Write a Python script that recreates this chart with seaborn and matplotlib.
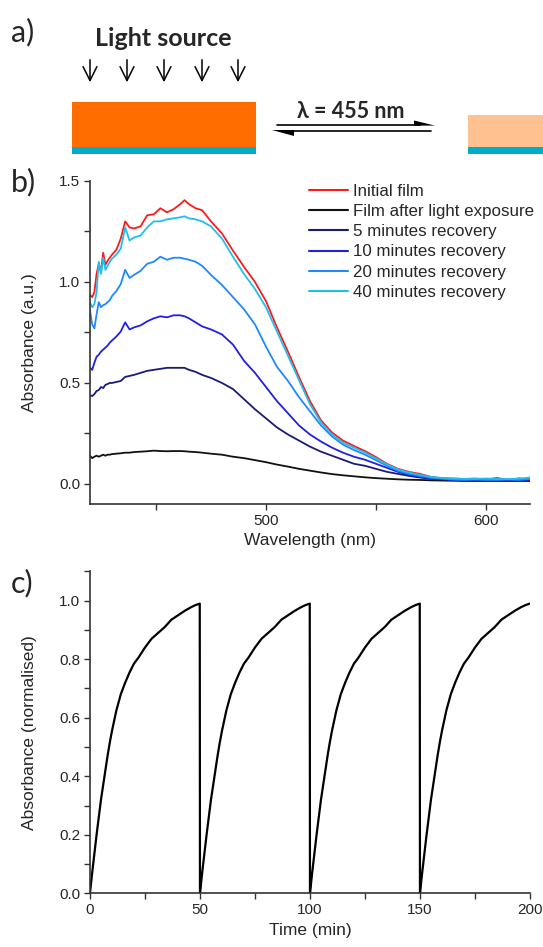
import numpy as np
import pandas as pd
import seaborn as sns
import matplotlib
matplotlib.use('Agg')
import matplotlib.pyplot as plt
from matplotlib.patches import Rectangle, Polygon
from matplotlib.ticker import MultipleLocator, FormatStrFormatter

# --- panel b: absorbance spectra ---
wavelength = [420, 421, 422, 423, 424, 425, 426, 427, 428, 429, 430, 432, 434, 436, 438, 440,
              443, 446, 449, 452, 455, 458, 461, 463, 465, 468, 471, 475, 480, 485, 490, 495,
              500, 505, 510, 515, 520, 525, 530, 535, 540, 545, 550, 555, 560, 565, 570, 575,
              580, 585, 590, 595, 600, 605, 610, 615, 620]

initial_film = [0.935, 0.925, 0.95, 1.04, 1.09, 1.05, 1.145, 1.085, 1.105, 1.12, 1.135, 1.16,
                1.215, 1.30, 1.27, 1.265, 1.275, 1.33, 1.335, 1.365, 1.345, 1.36, 1.385, 1.405,
                1.385, 1.365, 1.355, 1.30, 1.24, 1.155, 1.075, 1.0, 0.905, 0.775, 0.655, 0.53,
                0.41, 0.315, 0.255, 0.215, 0.188, 0.163, 0.133, 0.10, 0.075, 0.06, 0.05, 0.035,
                0.028, 0.027, 0.025, 0.027, 0.022, 0.03, 0.02, 0.028, 0.022]
after_light = [0.14, 0.128, 0.135, 0.14, 0.135, 0.14, 0.145, 0.14, 0.145, 0.145, 0.148, 0.15,
               0.152, 0.155, 0.155, 0.158, 0.16, 0.162, 0.165, 0.163, 0.162, 0.163, 0.163, 0.162,
               0.16, 0.158, 0.155, 0.15, 0.145, 0.135, 0.128, 0.118, 0.108, 0.096, 0.086, 0.075,
               0.066, 0.057, 0.049, 0.043, 0.038, 0.033, 0.029, 0.026, 0.023, 0.021, 0.02, 0.018,
               0.017, 0.016, 0.015, 0.015, 0.015, 0.015, 0.015, 0.015, 0.015]
rec_5min = [0.44, 0.435, 0.445, 0.46, 0.465, 0.48, 0.475, 0.49, 0.495, 0.50, 0.50, 0.505,
            0.51, 0.53, 0.535, 0.54, 0.55, 0.56, 0.565, 0.57, 0.575, 0.575, 0.575, 0.575,
            0.565, 0.555, 0.54, 0.525, 0.50, 0.47, 0.42, 0.37, 0.325, 0.28, 0.245, 0.215,
            0.185, 0.16, 0.14, 0.12, 0.10, 0.09, 0.075, 0.06, 0.05, 0.04, 0.032, 0.025,
            0.022, 0.02, 0.019, 0.018, 0.018, 0.018, 0.018, 0.018, 0.018]
rec_10min = [0.575, 0.565, 0.60, 0.63, 0.64, 0.655, 0.665, 0.675, 0.685, 0.70, 0.71, 0.73,
             0.755, 0.80, 0.765, 0.775, 0.785, 0.805, 0.82, 0.83, 0.825, 0.835, 0.835, 0.83,
             0.82, 0.80, 0.78, 0.765, 0.74, 0.69, 0.61, 0.55, 0.48, 0.41, 0.35, 0.29,
             0.245, 0.21, 0.18, 0.155, 0.135, 0.12, 0.10, 0.08, 0.06, 0.045, 0.035, 0.028,
             0.025, 0.02, 0.02, 0.02, 0.019, 0.02, 0.019, 0.02, 0.02]
rec_20min = [0.86, 0.79, 0.77, 0.84, 0.90, 0.875, 0.885, 0.89, 0.90, 0.91, 0.93, 0.955,
             0.99, 1.06, 1.02, 1.035, 1.055, 1.09, 1.10, 1.125, 1.11, 1.12, 1.12, 1.115,
             1.11, 1.10, 1.08, 1.035, 0.985, 0.925, 0.865, 0.79, 0.68, 0.58, 0.51, 0.43,
             0.36, 0.29, 0.235, 0.195, 0.168, 0.145, 0.118, 0.09, 0.065, 0.05, 0.04, 0.03,
             0.026, 0.022, 0.02, 0.022, 0.02, 0.02, 0.022, 0.02, 0.025]
rec_40min = [0.90, 0.875, 0.89, 0.95, 1.10, 1.04, 1.12, 1.06, 1.08, 1.10, 1.115, 1.135,
             1.165, 1.27, 1.205, 1.22, 1.23, 1.27, 1.30, 1.30, 1.31, 1.315, 1.32, 1.325,
             1.315, 1.31, 1.30, 1.275, 1.215, 1.125, 1.04, 0.965, 0.875, 0.755, 0.635, 0.515,
             0.395, 0.305, 0.245, 0.205, 0.18, 0.155, 0.127, 0.097, 0.072, 0.057, 0.045, 0.035,
             0.03, 0.027, 0.025, 0.025, 0.027, 0.025, 0.024, 0.026, 0.032]

series_names = ['Initial film', 'Film after light exposure', '5 minutes recovery',
                '10 minutes recovery', '20 minutes recovery', '40 minutes recovery']
series_values = [initial_film, after_light, rec_5min, rec_10min, rec_20min, rec_40min]
series_colors = ['#ff1a1a', '#111111', '#1a1a7a', '#1f1fe6', '#1f88ff', '#1ec0ee']

# --- panel c: one recovery cycle, repeated every 50 min ---
cycle_time = [0, 1, 2, 3, 4, 5, 6, 7, 8, 9, 10, 12, 14, 16, 18, 20, 22, 25, 28, 31, 34, 37,
              40, 43, 46, 48, 49.9]
cycle_abs = [0.0, 0.07, 0.135, 0.2, 0.26, 0.32, 0.37, 0.42, 0.47, 0.515, 0.555, 0.625, 0.68,
             0.72, 0.755, 0.785, 0.805, 0.84, 0.87, 0.89, 0.91, 0.935, 0.95, 0.965, 0.978,
             0.985, 0.99]
cycle_starts = [0, 50, 100, 150]

sns.set_style('ticks')
plt.rcParams['font.family'] = ['Liberation Sans', 'DejaVu Sans']
label_font = ['Lato', 'DejaVu Sans']

fig = plt.figure(figsize=(5.43, 9.47), dpi=100)

# panel a: schematic drawn in figure pixel coordinates
ax_a = fig.add_axes([0, 0, 1, 1])
ax_a.set_xlim(0, 543)
ax_a.set_ylim(947, 0)
ax_a.axis('off')
ax_a.add_patch(Rectangle((72, 102), 184, 45, color='#ff6d00', lw=0))
ax_a.add_patch(Rectangle((72, 147), 184, 7, color='#00adc8', lw=0))
ax_a.add_patch(Rectangle((468, 115), 80, 32, color='#ffc190', lw=0))
ax_a.add_patch(Rectangle((468, 147), 80, 7, color='#00adc8', lw=0))
for ax_x in [90, 127, 164, 202, 238]:
    ax_a.annotate('', xy=(ax_x, 85), xytext=(ax_x, 57),
                  arrowprops=dict(arrowstyle='->, head_length=0.5, head_width=0.25',
                                  lw=1.1, color='black', mutation_scale=20))
ax_a.plot([277, 420], [125, 125], color='black', lw=1.2)
ax_a.add_patch(Polygon([(414, 120.5), (435, 125.6), (414, 125.6)], closed=True, color='black', lw=0))
ax_a.plot([288, 431], [131, 131], color='black', lw=1.2)
ax_a.add_patch(Polygon([(272, 130.4), (294, 130.4), (294, 136)], closed=True, color='black', lw=0))
ax_a.text(163, 38, 'Light source', ha='center', va='center', fontsize=18, fontweight='bold',
          family=label_font)
ax_a.text(351, 111, 'λ = 455 nm', ha='center', va='center', fontsize=15.5, fontweight='bold',
          family=label_font)
for lab, ly in [('a)', 32), ('b)', 182), ('c)', 583)]:
    ax_a.text(11, ly, lab, ha='left', va='center', fontsize=22, family=label_font)

# panel b
rows = []
for name, vals in zip(series_names, series_values):
    for w, v in zip(wavelength, vals):
        rows.append((w, v, name))
df_b = pd.DataFrame(rows, columns=['wavelength', 'absorbance', 'series'])

ax_b = fig.add_axes([0.1657, 0.4676, 0.8103, 0.3413])
sns.lineplot(data=df_b, x='wavelength', y='absorbance', hue='series', hue_order=series_names,
             palette=series_colors, estimator=None, sort=False, lw=1.3, ax=ax_b)
ax_b.set_xlim(420, 620)
ax_b.set_ylim(-0.1, 1.5)
ax_b.xaxis.set_major_locator(MultipleLocator(100))
ax_b.xaxis.set_minor_locator(MultipleLocator(50))
ax_b.yaxis.set_major_locator(MultipleLocator(0.5))
ax_b.yaxis.set_minor_locator(MultipleLocator(0.25))
ax_b.set_xlabel('Wavelength (nm)', fontsize=12.5)
ax_b.set_ylabel('Absorbance (a.u.)', fontsize=12.5)
leg = ax_b.legend(loc='upper left', bbox_to_anchor=(0.497, 0.99), frameon=False, fontsize=12.2,
                  handlelength=2.3, handletextpad=0.3, labelspacing=0.3, borderpad=0,
                  borderaxespad=0)
for line in leg.get_lines():
    line.set_linewidth(1.5)

# panel c
rows = []
for start in cycle_starts:
    for t, v in zip(cycle_time, cycle_abs):
        rows.append((start + t, v))
df_c = pd.DataFrame(rows, columns=['time', 'absorbance'])

ax_c = fig.add_axes([0.1657, 0.0567, 0.8103, 0.3399])
sns.lineplot(data=df_c, x='time', y='absorbance', estimator=None, sort=False, color='black',
             lw=1.6, ax=ax_c)
ax_c.set_xlim(0, 200)
ax_c.set_ylim(0, 1.1)
ax_c.xaxis.set_major_locator(MultipleLocator(50))
ax_c.xaxis.set_minor_locator(MultipleLocator(25))
ax_c.yaxis.set_major_locator(MultipleLocator(0.2))
ax_c.yaxis.set_minor_locator(MultipleLocator(0.1))
ax_c.set_xlabel('Time (min)', fontsize=12.5)
ax_c.set_ylabel('Absorbance (normalised)', fontsize=12.5)

for ax in [ax_b, ax_c]:
    sns.despine(ax=ax)
    ax.yaxis.set_major_formatter(FormatStrFormatter('%.1f'))
    ax.xaxis.set_major_formatter(FormatStrFormatter('%d'))
    ax.tick_params(which='both', direction='out', length=4, width=1, labelsize=11,
                   color='#333333', pad=3)
    for s in ['left', 'bottom']:
        ax.spines[s].set_linewidth(1.2)
        ax.spines[s].set_color('#333333')
    ax.yaxis.set_label_coords(-0.12, 0.5)

fig.savefig('out.png', dpi=100)
